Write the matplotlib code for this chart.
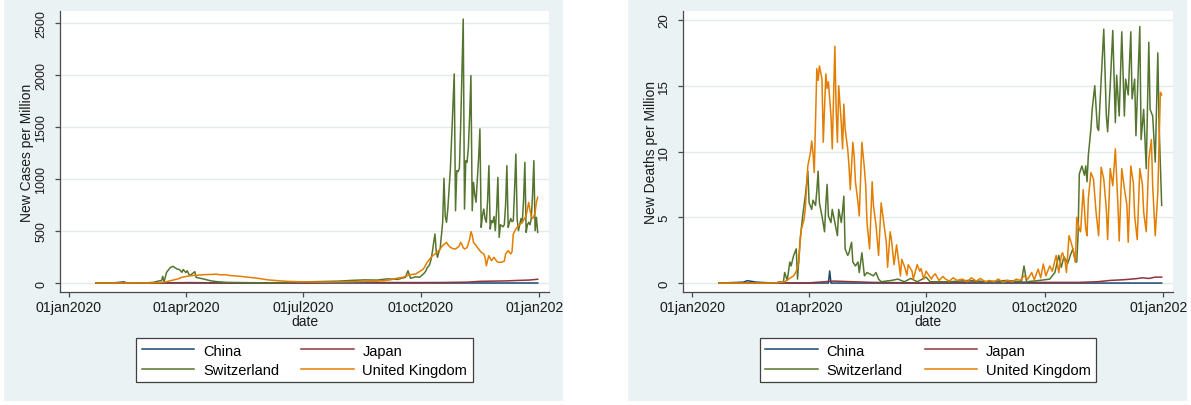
import numpy as np
import matplotlib
matplotlib.use("Agg")
import matplotlib.pyplot as plt
from matplotlib.patches import Rectangle

W, H = 1191, 406
BG = "#eaf2f3"

COUNTRIES = ["China", "Japan", "Switzerland", "United Kingdom"]
COLORS = ["#1a476f", "#90353b", "#55752f", "#e37e00"]
TICK_DAYS = [0, 91, 182, 274, 366]
TICK_LABELS = ["01jan2020", "01apr2020", "01jul2020", "01oct2020", "01jan2021"]

# (day since 01jan2020, new cases per million)
chn_cases = [(21, 0.4), (30, 1.4), (36, 2.7), (43, 10.6), (44, 3.6), (50, 0.6), (60, 0.1),
             (90, 0.05), (200, 0.05), (365, 0.05)]
jpn_cases = [(21, 0), (60, 0.3), (95, 4), (110, 2), (130, 0.3), (180, 1), (200, 5), (215, 12),
             (240, 5), (270, 4), (290, 5), (310, 8), (320, 16), (330, 18), (340, 20), (350, 25),
             (358, 28), (365, 36)]
che_cases = [(21, 0), (55, 0), (60, 1), (66, 7), (70, 20), (72, 22), (73, 64), (74, 10), (76, 103),
             (79, 150), (81, 160), (84, 135), (86, 129), (88, 103), (89, 130), (91, 100), (92, 118),
             (94, 70), (98, 109), (99, 54), (105, 38), (110, 22), (115, 13), (123, 6), (140, 3),
             (155, 2), (170, 5), (180, 10), (190, 12), (200, 15), (210, 18), (220, 25), (230, 30),
             (240, 28), (248, 40), (256, 35), (262, 55), (264, 118), (266, 45), (270, 60), (273, 55),
             (276, 87), (277, 100), (278, 118), (279, 150), (280, 160), (281, 183), (282, 230),
             (283, 300), (284, 391), (285, 471), (286, 300), (287, 247), (288, 300), (289, 327),
             (290, 450), (291, 583), (292, 1007), (293, 640), (294, 583), (295, 711), (296, 900),
             (297, 1096), (298, 1400), (299, 1700), (300, 2010), (301, 695), (302, 1080), (303, 1070),
             (304, 1100), (305, 1500), (306, 2000), (307, 2538), (308, 711), (309, 1176), (310, 1160),
             (311, 1300), (312, 1600), (313, 1994), (314, 695), (315, 968), (316, 850), (317, 776),
             (318, 1000), (319, 1200), (320, 1481), (321, 535), (322, 650), (323, 711), (324, 620),
             (325, 583), (326, 800), (327, 1128), (328, 519), (329, 600), (330, 580), (331, 640),
             (332, 503), (333, 700), (334, 1016), (335, 439), (336, 560), (337, 551), (338, 540),
             (339, 560), (340, 750), (341, 1128), (342, 535), (343, 580), (344, 620), (345, 590),
             (346, 599), (347, 900), (348, 1240), (349, 615), (350, 503), (351, 560), (352, 620),
             (353, 580), (354, 800), (355, 1160), (356, 487), (357, 560), (358, 583), (359, 560),
             (360, 620), (361, 850), (362, 1176), (363, 503), (364, 631), (365, 487)]
gbr_cases = [(21, 0), (40, 0), (55, 0.1), (62, 0.5), (70, 3), (75, 10), (80, 25), (85, 40),
             (88, 55), (92, 65), (95, 70), (100, 75), (105, 80), (110, 82), (115, 85), (118, 78),
             (122, 80), (125, 72), (130, 68), (135, 62), (140, 55), (145, 48), (150, 40), (155, 30),
             (160, 25), (165, 20), (170, 16), (180, 12), (190, 10), (200, 9), (210, 11), (220, 13),
             (230, 16), (240, 18), (245, 22), (250, 30), (255, 45), (260, 55), (263, 70), (266, 80),
             (270, 87), (273, 110), (276, 135), (279, 200), (281, 231), (283, 260), (285, 279),
             (287, 300), (289, 327), (291, 360), (293, 380), (294, 391), (295, 370), (297, 343),
             (299, 330), (301, 327), (303, 345), (304, 359), (305, 391), (306, 370), (307, 340),
             (308, 327), (310, 340), (312, 420), (313, 494), (314, 460), (315, 391), (317, 360),
             (318, 343), (320, 310), (321, 295), (323, 280), (324, 247), (325, 166), (326, 220),
             (327, 263), (329, 215), (330, 230), (331, 247), (333, 210), (334, 199), (337, 200),
             (339, 210), (340, 279), (342, 311), (344, 279), (345, 300), (346, 471), (348, 520),
             (350, 551), (353, 583), (356, 647), (358, 776), (359, 700), (360, 640), (361, 620),
             (362, 640), (363, 680), (364, 776), (365, 824)]

# (day since 01jan2020, new deaths per million)
chn_deaths = [(21, 0.01), (30, 0.03), (40, 0.07), (43, 0.18), (50, 0.07), (60, 0.02), (80, 0.0),
              (106, 0.0), (107, 0.92), (108, 0.0), (150, 0.0), (365, 0.0)]
jpn_deaths = [(21, 0), (60, 0), (90, 0.01), (110, 0.15), (125, 0.1), (140, 0.05), (180, 0.01),
              (220, 0.08), (240, 0.1), (270, 0.05), (300, 0.05), (315, 0.1), (325, 0.2), (335, 0.25),
              (345, 0.33), (350, 0.4), (355, 0.35), (360, 0.45), (365, 0.45)]
che_deaths = [(21, 0), (65, 0), (68, 0.1), (71, 0.05), (72, 0.8), (74, 0.2), (76, 1.6), (77, 1.3),
              (79, 2.1), (81, 2.6), (82, 0.3), (84, 3.3), (86, 5.1), (88, 6.6), (89, 7.5), (90, 8.5),
              (91, 6.1), (93, 5.6), (94, 6.3), (96, 5.9), (97, 7.0), (98, 8.5), (99, 6.1), (101, 5.1),
              (103, 3.9), (104, 6.0), (105, 7.5), (106, 5.1), (108, 4.6), (109, 5.6), (111, 4.6),
              (113, 3.6), (114, 5.6), (116, 4.6), (117, 5.5), (118, 6.6), (119, 2.6), (121, 2.1),
              (122, 2.3), (124, 3.1), (125, 1.6), (127, 1.3), (129, 1.6), (130, 0.8), (132, 2.3),
              (134, 0.55), (136, 0.8), (138, 0.7), (141, 0.55), (143, 0.8), (145, 0.3), (147, 0.1),
              (155, 0.2), (160, 0.3), (165, 0.1), (170, 0.35), (175, 0.1), (182, 0.45), (185, 0.1),
              (200, 0.1), (215, 0.2), (230, 0.1), (245, 0.2), (256, 0.1), (258, 1.3), (260, 0.1),
              (270, 0.2), (278, 0.3), (282, 0.8), (285, 2.1), (287, 1.2), (289, 2.0), (292, 1.5),
              (294, 2.1), (296, 2.6), (298, 1.6), (299, 1.6), (300, 3.6), (301, 8.3), (303, 8.9),
              (305, 8.2), (306, 8.9), (307, 7.7), (308, 9.7), (310, 11.7), (311, 13.2), (313, 15.0),
              (315, 11.8), (316, 11.6), (318, 15.5), (320, 19.3), (322, 12.7), (323, 11.5), (325, 15.0),
              (327, 19.2), (329, 12.2), (330, 15.8), (332, 12.7), (334, 19.1), (336, 12.7), (337, 15.5),
              (339, 14.3), (341, 19.1), (342, 14.0), (344, 15.5), (345, 11.2), (348, 19.5), (349, 10.9),
              (351, 13.2), (353, 8.7), (355, 18.3), (356, 13.2), (358, 12.7), (360, 9.2), (362, 17.5),
              (363, 12.0), (365, 5.9)]
gbr_deaths = [(21, 0), (60, 0), (66, 0.02), (68, 0.05), (72, 0.1), (75, 0.3), (79, 0.55), (81, 0.9),
              (83, 1.57), (84, 3.1), (85, 4.1), (87, 4.8), (88, 5.6), (90, 8.9), (92, 9.9), (93, 10.8),
              (94, 9.9), (95, 8.4), (96, 12.5), (97, 16.3), (98, 15.4), (99, 16.5), (101, 15.5),
              (102, 10.7), (104, 15.9), (105, 14.8), (106, 15.3), (108, 12.7), (109, 10.2), (111, 18.0),
              (112, 13.2), (113, 10.7), (114, 15.0), (116, 12.2), (117, 10.2), (118, 13.6), (119, 11.7),
              (121, 10.2), (122, 8.9), (123, 7.1), (125, 10.7), (126, 9.7), (127, 7.7), (129, 6.1),
              (130, 5.1), (132, 10.7), (134, 8.7), (135, 7.4), (136, 4.6), (138, 2.6), (140, 7.7),
              (141, 5.9), (143, 4.4), (145, 2.1), (147, 6.1), (149, 4.6), (151, 3.1), (152, 1.2),
              (154, 3.9), (155, 3.3), (157, 1.4), (159, 2.9), (160, 2.1), (162, 0.55), (163, 1.8),
              (165, 1.3), (167, 0.6), (168, 1.4), (171, 0.9), (172, 0.3), (175, 1.4), (177, 0.9),
              (178, 1.1), (180, 0.3), (182, 0.9), (184, 0.6), (186, 0.3), (187, 0.5), (189, 0.7),
              (192, 0.2), (195, 0.5), (197, 0.3), (200, 0.15), (203, 0.4), (206, 0.2), (210, 0.3),
              (214, 0.1), (217, 0.4), (221, 0.15), (224, 0.35), (228, 0.1), (231, 0.2), (235, 0.1),
              (238, 0.3), (242, 0.05), (245, 0.2), (249, 0.1), (252, 0.3), (255, 0.2), (258, 0.55),
              (261, 0.3), (264, 0.8), (266, 0.25), (269, 1.06), (271, 0.4), (273, 1.45), (275, 0.55),
              (278, 1.3), (280, 0.9), (283, 2.1), (285, 0.8), (287, 2.1), (288, 2.3), (290, 1.6),
              (291, 0.8), (293, 3.6), (294, 3.3), (296, 2.6), (298, 1.6), (299, 5.0), (301, 4.1),
              (302, 3.9), (304, 7.1), (306, 4.1), (307, 3.6), (308, 6.4), (310, 8.4), (312, 7.9),
              (314, 5.4), (316, 3.6), (318, 8.8), (320, 7.9), (322, 5.6), (323, 3.3), (325, 8.7),
              (327, 7.4), (329, 10.2), (331, 5.9), (332, 3.2), (334, 8.7), (336, 7.2), (338, 5.9),
              (339, 3.1), (341, 8.9), (343, 7.6), (344, 5.1), (346, 3.3), (348, 8.7), (350, 7.5),
              (351, 5.4), (353, 3.9), (355, 9.4), (357, 10.9), (358, 7.4), (360, 3.6), (362, 6.9),
              (364, 14.5), (365, 14.3)]

CASE_TICKS = [0, 500, 1000, 1500, 2000, 2500]
DEATH_TICKS = [0, 5, 10, 15, 20]


def fig_rect(x0, y0, x1, y1):
    """pixel box (top-left origin) -> figure fraction [l, b, w, h]"""
    return [x0 / W, 1 - y1 / H, (x1 - x0) / W, (y1 - y0) / H]


def panel(fig, box, bg, series, ylim, yticks, ylabel, ytick_size):
    l, b, w, h = fig_rect(*bg)
    fig.add_artist(Rectangle((l, b), w, h, transform=fig.transFigure,
                             facecolor=BG, edgecolor="none", zorder=-2))
    ax = fig.add_axes(fig_rect(*box))
    lines = []
    for (name, color, data) in zip(COUNTRIES, COLORS, series):
        d, v = np.array(data, dtype=float).T
        lines += ax.plot(d, v, color=color, lw=1.1, label=name)
    ax.set_xlim(-7.0, 373.8)
    ax.set_ylim(*ylim)
    ax.set_yticks(yticks)
    ax.set_xticks(TICK_DAYS, TICK_LABELS)
    ax.yaxis.grid(True, color="#e4ebec", lw=1.0)
    ax.set_axisbelow(True)
    for s in ("top", "right"):
        ax.spines[s].set_visible(False)
    for s in ("left", "bottom"):
        ax.spines[s].set_color("#4a4a4a")
        ax.spines[s].set_linewidth(0.9)
    ax.tick_params(colors="#4a4a4a", labelcolor="#1a1a1a", length=3.6, width=0.9)
    ax.tick_params(axis="y", labelrotation=90, pad=5.5, labelsize=ytick_size)
    ax.tick_params(axis="x", pad=2.5, labelsize=10.2)
    for lab in ax.get_yticklabels():
        lab.set_va("center")
    ax.set_ylabel(ylabel, fontsize=10, color="#1a1a1a", va="center")
    ax.yaxis.set_label_coords((bg[0] + 23 - box[0]) / (box[2] - box[0]), 0.5)
    ax.set_xlabel("date", fontsize=10, color="#1a1a1a", va="center")
    ax.xaxis.set_label_coords(0.5, -(322 - box[3]) / (box[3] - box[1]))
    # two rows: China / Japan, then Switzerland / United Kingdom
    order = [0, 2, 1, 3]
    leg = ax.legend([lines[i] for i in order], [COUNTRIES[i] for i in order],
                    ncol=2, loc="upper center",
                    bbox_to_anchor=(0.5, -(339 - box[3]) / (box[3] - box[1])),
                    borderaxespad=0, fontsize=10.5, frameon=True, fancybox=False, framealpha=1,
                    edgecolor="#404040", handlelength=3.6, handletextpad=0.6, columnspacing=1.5,
                    labelspacing=0.35, borderpad=0.38)
    leg.get_frame().set_linewidth(0.9)
    return ax


def main():
    plt.rcParams["font.family"] = ["Liberation Sans", "DejaVu Sans"]
    fig = plt.figure(figsize=(W / 100, H / 100), dpi=100, facecolor="white")

    panel(fig, (60, 12, 549, 293), (4, 0, 563, 402),
          [chn_cases, jpn_cases, che_cases, gbr_cases],
          (-86.5, 2615), CASE_TICKS, "New Cases per Million", 9.0)
    panel(fig, (683, 12, 1173, 293), (628, 0, 1187, 402),
          [chn_deaths, jpn_deaths, che_deaths, gbr_deaths],
          (-0.68, 20.68), DEATH_TICKS, "New Deaths per Million", 9.6)

    # white gaps between and right of panels (also trims the last date label)
    for x0, x1 in ((563, 628), (1187, W)):
        l, b, w, h = fig_rect(x0, 0, x1, H)
        fig.add_artist(Rectangle((l, b), w, h, transform=fig.transFigure,
                                 facecolor="white", edgecolor="none", zorder=10))

    fig.savefig("out.png", dpi=100, facecolor="white")
    plt.close(fig)


if __name__ == "__main__":
    main()
